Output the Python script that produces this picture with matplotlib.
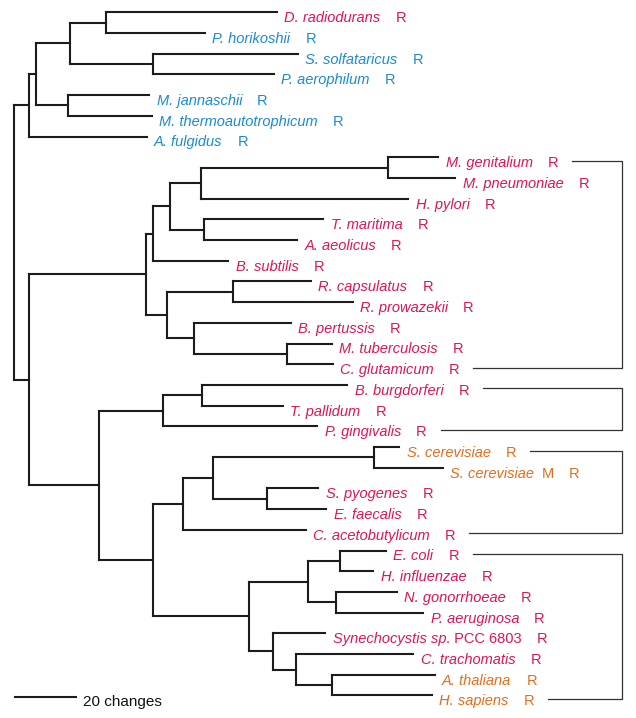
import matplotlib.pyplot as plt

# leaves, top to bottom
names = ['D. radiodurans', 'P. horikoshii', 'S. solfataricus', 'P. aerophilum',
         'M. jannaschii', 'M. thermoautotrophicum', 'A. fulgidus',
         'M. genitalium', 'M. pneumoniae', 'H. pylori', 'T. maritima',
         'A. aeolicus', 'B. subtilis', 'R. capsulatus', 'R. prowazekii',
         'B. pertussis', 'M. tuberculosis', 'C. glutamicum', 'B. burgdorferi',
         'T. pallidum', 'P. gingivalis', 'S. cerevisiae', 'S. cerevisiae',
         'S. pyogenes', 'E. faecalis', 'C. acetobutylicum', 'E. coli',
         'H. influenzae', 'N. gonorrhoeae', 'P. aeruginosa', 'Synechocystis sp',
         'C. trachomatis', 'A. thaliana', 'H. sapiens']
suffixes = {22: 'M', 30: '. PCC 6803'}
groups = ['bac', 'arc', 'arc', 'arc', 'arc', 'arc', 'arc'] + ['bac'] * 14 + \
         ['euk', 'euk'] + ['bac'] * 9 + ['euk', 'euk']

# depth of each tip, in changes from the root
tip_depth = [86.2, 62.6, 93.1, 85.2, 44.3, 45.2, 43.5,
             139.1, 144.6, 129.3, 101.4, 92.7, 70.3, 97.3, 111.0,
             90.8, 104.2, 104.5, 109.3, 88.1, 99.4, 126.3, 140.6,
             99.8, 102.3, 95.6, 121.9, 117.8, 125.5, 134.1, 102.0,
             130.9, 137.9, 137.0]

# internal nodes: (depth, [children]); ints are leaf indices
tree = (0.0, [
    (5.0, [(7.1, [(18.4, [(30.1, [0, 1]), (45.5, [2, 3])]),
                  (17.8, [4, 5])]),
           6]),
    (5.0, [
        (43.2, [
            (45.5, [(51.1, [(61.2, [(122.7, [7, 8]), 9]), (62.4, [10, 11])]),
                    12]),
            (50.1, [(71.7, [13, 14]), (59.0, [15, (89.6, [16, 17])])])]),
        (27.9, [
            (49.0, [(61.5, [18, 19]), 20]),
            (45.6, [
                (55.5, [(65.3, [(118.1, [21, 22]), (83.0, [23, 24])]), 25]),
                (77.1, [
                    (96.5, [(106.9, [26, 27]), (105.6, [28, 29])]),
                    (85.0, [30, (92.5, [31, (104.2, [32, 33])])])])])])])
])

brackets = [(7, 17), (18, 20), (21, 25), (26, 33)]

colors = {'bac': '#de1459', 'arc': '#1b8ad0', 'euk': '#e36d1c'}
line_c = '#1c1c1c'

fig = plt.figure(figsize=(6.36, 7.18), dpi=100)
ax = fig.add_axes([0, 0, 1, 1])
ax.axis('off')
px = 3.05  # pixels per change
ax.set_xlim(-14 / px, (636 - 14) / px)
ax.set_ylim((718 - 12.3) / 20.7, -12.3 / 20.7)


def draw(node):
    depth, children = node
    ys = []
    for ch in children:
        if isinstance(ch, int):
            y, d = ch, tip_depth[ch]
        else:
            y, d = draw(ch), ch[0]
        ax.plot([depth, d], [y, y], color=line_c, lw=1.5, solid_capstyle='projecting')
        ys.append(y)
    ax.plot([depth, depth], [min(ys), max(ys)], color=line_c, lw=1.5,
            solid_capstyle='projecting')
    return (min(ys) + max(ys)) / 2


draw(tree)

font = 'Liberation Sans'
r_labels = []
for i, name in enumerate(names):
    c = colors[groups[i]]
    t = ax.annotate(name, xy=(tip_depth[i], i), xytext=(5.4, -4.3),
                    textcoords='offset points', va='center', ha='left',
                    fontsize=10.5, style='italic', color=c, family=font)
    gap = 10.8
    if i in suffixes:
        s = suffixes[i]
        t = ax.annotate(s, xy=(1, 0.5), xycoords=t,
                        xytext=(0 if s.startswith('.') else 5, 0),
                        textcoords='offset points', va='center', ha='left',
                        fontsize=10.5, color=c, family=font)
    r = ax.annotate('R', xy=(1, 0.5), xycoords=t, xytext=(gap, 0),
                    textcoords='offset points', va='center', ha='left',
                    fontsize=10.5, color=c, family=font)
    r_labels.append(r)

fig.canvas.draw()
inv = ax.transData.inverted()
bx = (622 - 14) / px
for top, bot in brackets:
    xt = inv.transform((r_labels[top].get_window_extent().x1 + 14, 0))[0]
    xb = inv.transform((r_labels[bot].get_window_extent().x1 + 14, 0))[0]
    yt, yb = top + 0.17, bot + 0.17
    ax.plot([xt, bx, bx, xb], [yt, yt, yb, yb], color='#333333', lw=0.9)

# scale bar
ax.plot([15 / px - 14 / px, 15 / px - 14 / px + 20], [33.06, 33.06], color=line_c, lw=1.5)
ax.text(83 / px - 14 / px, 33.3, '20 changes', fontsize=11, family=font,
        va='center', ha='left', color='#111111')

fig.savefig('out.png', dpi=100)
